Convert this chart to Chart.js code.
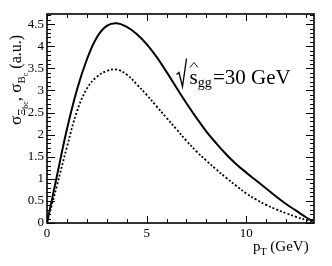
<!DOCTYPE html>
<html>
<head>
<meta charset="utf-8">
<script src="https://cdn.jsdelivr.net/npm/chart.js@4/dist/chart.umd.min.js"></script>
<style>
	html, body { margin: 0; padding: 0; background: #fff; }
	canvas { display: block; }
</style>
</head>
<body>
<canvas id="chart" width="332" height="266"></canvas>
<script>
// --- data ------------------------------------------------------------------
const pT = [0, 0.5, 1, 1.5, 2, 2.5, 3, 3.5, 4, 4.5, 5, 5.5, 6, 6.5, 7, 7.5, 8, 8.5, 9, 9.5,
	10, 10.5, 11, 11.5, 12, 12.5, 13, 13.35];
const sigmaXi = [0, 1.07, 2.12, 3.01, 3.7, 4.2, 4.46, 4.52, 4.44, 4.28, 4.05, 3.76, 3.42, 3.06, 2.71, 2.38,
	2.07, 1.8, 1.55, 1.33, 1.14, 0.96, 0.78, 0.6, 0.43, 0.28, 0.13, 0.04];
const sigmaBc = [0, 0.85, 1.72, 2.52, 3.04, 3.31, 3.44, 3.47, 3.36, 3.14, 2.9, 2.64, 2.38, 2.12, 1.86, 1.62,
	1.41, 1.21, 1.02, 0.84, 0.67, 0.53, 0.41, 0.31, 0.22, 0.14, 0.07, 0.04];
const xTicks = [0, 5, 10];
const yTicks = [0, 0.5, 1, 1.5, 2, 2.5, 3, 3.5, 4, 4.5];
const xRange = [0, 13.4];
const yRange = [0, 4.73];

const SERIF = '"Liberation Serif", "DejaVu Serif", serif';

function pts(ys) { return pT.map((x, i) => ({ x, y: ys[i] })); }

// draws a run of text pieces (size / vertical shift) left to right
function drawRich(ctx, parts, x, y) {
	let cx = x;
	parts.forEach(p => {
		ctx.font = p.size + 'px ' + SERIF;
		ctx.fillText(p.t, cx, y + (p.dy || 0));
		cx += ctx.measureText(p.t).width;
	});
	return cx;
}

// --- frame, inward ticks, titles -------------------------------------------
const rootFrame = {
	id: 'rootFrame',
	afterDraw(chart) {
		const { ctx, chartArea: a, scales: { x, y } } = chart;
		ctx.save();
		ctx.strokeStyle = '#000';
		ctx.fillStyle = '#000';

		ctx.lineWidth = 1;
		ctx.beginPath();
		for (let v = 0; v <= xRange[1]; v += 1) {
			const px = Math.round(x.getPixelForValue(v)) + 0.5;
			const len = xTicks.includes(v) ? 7 : 4;
			ctx.moveTo(px, a.bottom); ctx.lineTo(px, a.bottom - len);
			ctx.moveTo(px, a.top); ctx.lineTo(px, a.top + len);
		}
		for (let i = 0; i <= 47; i++) {
			const v = i / 10;
			if (v > yRange[1]) break;
			const py = Math.round(y.getPixelForValue(v)) + 0.5;
			const len = i % 5 === 0 ? 8 : 4;
			ctx.moveTo(a.left, py); ctx.lineTo(a.left + len, py);
			ctx.moveTo(a.right, py); ctx.lineTo(a.right - len, py);
		}
		ctx.stroke();

		ctx.lineWidth = 1.6;
		ctx.strokeRect(a.left, a.top, a.right - a.left, a.bottom - a.top);

		// x title
		ctx.textBaseline = 'alphabetic';
		drawRich(ctx, [
			{ t: 'p', size: 15 },
			{ t: 'T', size: 10, dy: 4 },
			{ t: ' (GeV)', size: 15 }
		], 253, 251);

		// y title, rotated
		ctx.save();
		ctx.translate(21, 125);
		ctx.rotate(-Math.PI / 2);
		drawRich(ctx, [
			{ t: 'σ', size: 17 },
			{ t: 'Ξ', size: 11, dy: 4 },
			{ t: 'bc', size: 8, dy: 7 },
			{ t: ', σ', size: 17 },
			{ t: 'B', size: 11, dy: 4 },
			{ t: 'c', size: 8, dy: 7 },
			{ t: ' (a.u.)', size: 16 }
		], 0, 0);
		ctx.restore();

		// annotation: sqrt(s_gg hat) = 30 GeV
		ctx.lineWidth = 1.3;
		ctx.beginPath();
		ctx.moveTo(176.5, 74.5); ctx.lineTo(179, 72.5);
		ctx.lineTo(182.5, 86.5); ctx.lineTo(186.5, 58.5);
		ctx.stroke();
		ctx.lineWidth = 0.9;
		ctx.beginPath();
		ctx.moveTo(190, 67.5); ctx.lineTo(194, 62.5); ctx.lineTo(198, 67.5);
		ctx.stroke();
		const sx = drawRich(ctx, [{ t: 's', size: 21 }], 189.5, 83.5);
		drawRich(ctx, [{ t: 'gg', size: 14 }], sx, 87);
		drawRich(ctx, [{ t: '=30 GeV', size: 21 }], 213, 83.5);

		ctx.restore();
	}
};

// --- chart -----------------------------------------------------------------
new Chart(document.getElementById('chart'), {
	type: 'line',
	data: {
		datasets: [
			{ label: 'Xi_bc', data: pts(sigmaXi), borderColor: '#000', borderWidth: 2,
			  pointRadius: 0, fill: false, tension: 0.4 },
			{ label: 'B_c', data: pts(sigmaBc), borderColor: '#000', borderWidth: 1.8,
			  borderDash: [2, 2], pointRadius: 0, fill: false, tension: 0.4 }
		]
	},
	options: {
		responsive: false, devicePixelRatio: 1, animation: false,
		layout: { padding: { left: 0, right: 18, top: 14, bottom: 0 } },
		plugins: { legend: { display: false }, tooltip: { enabled: false } },
		scales: {
			x: {
				type: 'linear', min: xRange[0], max: xRange[1],
				grid: { display: false, drawTicks: false }, border: { display: false },
				afterFit: s => { s.height = 43; },
				afterBuildTicks: s => { s.ticks = xTicks.map(v => ({ value: v })); },
				ticks: { color: '#000', font: { family: SERIF, size: 13 }, padding: 3,
					maxRotation: 0, autoSkip: false, callback: v => String(v) }
			},
			y: {
				type: 'linear', min: yRange[0], max: yRange[1],
				grid: { display: false, drawTicks: false }, border: { display: false },
				afterFit: s => { s.width = 47; },
				afterBuildTicks: s => { s.ticks = yTicks.map(v => ({ value: v })); },
				ticks: { color: '#000', font: { family: SERIF, size: 13 }, padding: 3,
					autoSkip: false, callback: v => String(v) }
			}
		}
	},
	plugins: [rootFrame]
});
</script>
</body>
</html>
